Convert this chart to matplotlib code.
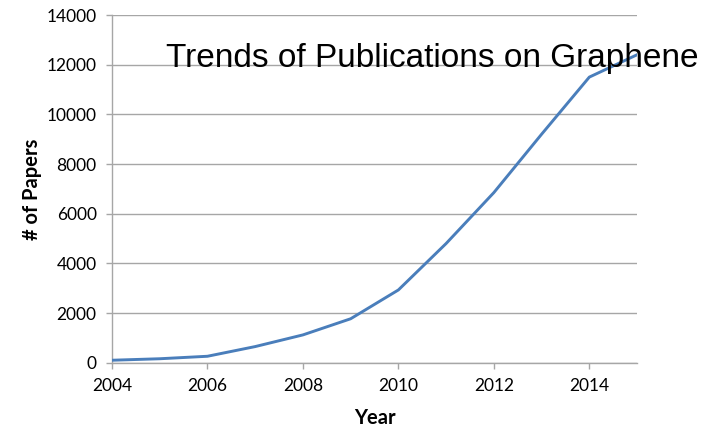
import matplotlib
matplotlib.use('Agg')
import matplotlib.pyplot as plt

years = [2004, 2005, 2006, 2007, 2008, 2009, 2010, 2011, 2012, 2013, 2014, 2015]
papers = [100, 160, 260, 650, 1120, 1770, 2930, 4800, 6850, 9200, 11500, 12400]
x_ticks = [2004, 2006, 2008, 2010, 2012, 2014]
y_ticks = [0, 2000, 4000, 6000, 8000, 10000, 12000, 14000]

fig = plt.figure(figsize=(7.11, 4.29), dpi=100)
ax = fig.add_axes([0.1575, 0.1545, 0.7385, 0.8105])

ax.plot(years, papers, color='#4a7ebb', linewidth=2.1, solid_joinstyle='round', zorder=3)

ax.set_xlim(2004, 2015)
ax.set_ylim(0, 14000)
ax.set_xticks(x_ticks)
ax.set_yticks(y_ticks)
ax.grid(axis='y', color='#a6a6a6', linewidth=1.0)
ax.set_axisbelow(True)

for side in ('top', 'right'):
    ax.spines[side].set_visible(False)
for side in ('left', 'bottom'):
    ax.spines[side].set_color('#a6a6a6')
    ax.spines[side].set_linewidth(1.0)

ax.tick_params(axis='both', colors='#a6a6a6', labelcolor='black', length=4, width=1.0,
               labelsize=12.5, direction='out')
ax.tick_params(axis='x', pad=7)
ax.tick_params(axis='y', pad=7)
for lbl in ax.get_xticklabels() + ax.get_yticklabels():
    lbl.set_family('Lato')

ax.set_xlabel('Year', fontsize=14.5, fontweight='bold', family='Lato', labelpad=10)
ax.set_ylabel('# of Papers', fontsize=14.5, fontweight='bold', family='Lato', labelpad=3)

fig.text(166 / 711, 1 - 67 / 429, 'Trends of Publications on Graphene',
         fontsize=24, family='Liberation Sans', va='baseline', ha='left')

fig.savefig('out.png', dpi=100)
